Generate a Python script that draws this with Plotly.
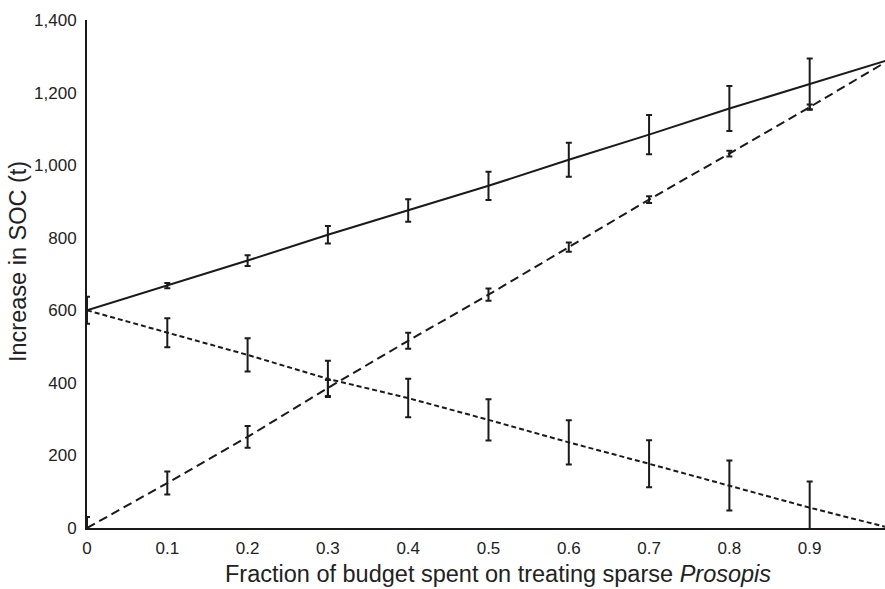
import plotly.graph_objects as go

x_vals = [0, 0.1, 0.2, 0.3, 0.4, 0.5, 0.6, 0.7, 0.8, 0.9, 1.0]
solid_vals = [600, 668, 737, 808, 875, 943, 1015, 1084, 1156, 1224, 1291]
solid_err = [0, 7, 15, 24, 31, 39, 47, 54, 62, 70, 77]
incr_vals = [0, 124, 251, 386, 516, 643, 774, 905, 1032, 1160, 1291]
incr_err = [30, 32, 30, 22, 22, 17, 13, 9, 8, 7, 5]
decr_vals = [600, 538, 477, 411, 358, 298, 236, 177, 117, 56, 0]
decr_err = [37, 40, 46, 50, 53, 57, 61, 65, 69, 72, 77]

x_ticks = [0, 0.1, 0.2, 0.3, 0.4, 0.5, 0.6, 0.7, 0.8, 0.9]
x_tick_labels = ["0", "0.1", "0.2", "0.3", "0.4", "0.5", "0.6", "0.7", "0.8", "0.9"]
y_ticks = [0, 200, 400, 600, 800, 1000, 1200, 1400]
y_tick_labels = ["0", "200", "400", "600", "800", "1,000", "1,200", "1,400"]

x_title = "Fraction of budget spent on treating sparse <i>Prosopis</i>"
y_title = "Increase in SOC (t)"

ink = "#1a1a1a"

def err(vals):
    return dict(type="data", array=vals, visible=True, color=ink, thickness=2, width=3)

fig = go.Figure()
fig.add_trace(go.Scatter(x=x_vals, y=solid_vals, mode="lines",
                         line=dict(color=ink, width=2), error_y=err(solid_err),
                         showlegend=False))
fig.add_trace(go.Scatter(x=x_vals, y=incr_vals, mode="lines",
                         line=dict(color=ink, width=2, dash="9px,5px"), error_y=err(incr_err),
                         showlegend=False))
fig.add_trace(go.Scatter(x=x_vals, y=decr_vals, mode="lines",
                         line=dict(color=ink, width=2, dash="5px,3px"), error_y=err(decr_err),
                         showlegend=False))

font_family = "Arial, Liberation Sans, Helvetica, sans-serif"
L, R, T, B = 87, 0, 20, 61
W, H = 885, 589
pw = W - L - R
ph = H - T - B

fig.update_layout(
    width=W, height=H,
    margin=dict(l=L, r=R, t=T, b=B),
    paper_bgcolor="white", plot_bgcolor="white",
    font=dict(family=font_family, color="#222222", size=17),
    xaxis=dict(range=[0, 0.9938], tickvals=x_ticks, ticktext=x_tick_labels,
               showgrid=False, zeroline=False, showline=True, linecolor=ink, linewidth=2,
               ticks="outside", ticklen=4, tickcolor="rgba(0,0,0,0)",
               tickfont=dict(size=17), automargin=False),
    yaxis=dict(range=[0, 1400], tickvals=y_ticks, ticktext=y_tick_labels,
               showgrid=False, zeroline=False, showline=True, linecolor=ink, linewidth=2,
               ticks="outside", ticklen=5, tickcolor="rgba(0,0,0,0)",
               tickfont=dict(size=17), automargin=False),
    annotations=[
        dict(text=x_title, xref="paper", yref="paper",
             x=(498 - L) / pw, y=-(574 - (T + ph)) / ph,
             xanchor="center", yanchor="middle", showarrow=False,
             font=dict(size=23.5, color="#222222")),
        dict(text=y_title, xref="paper", yref="paper",
             x=-(L - 18) / pw, y=1 - (262 - T) / ph, textangle=-90,
             xanchor="center", yanchor="middle", showarrow=False,
             font=dict(size=23.5, color="#222222")),
    ],
)

fig.write_html("out.html", config={"displayModeBar": False},
               post_script="document.body.style.margin='0';")
